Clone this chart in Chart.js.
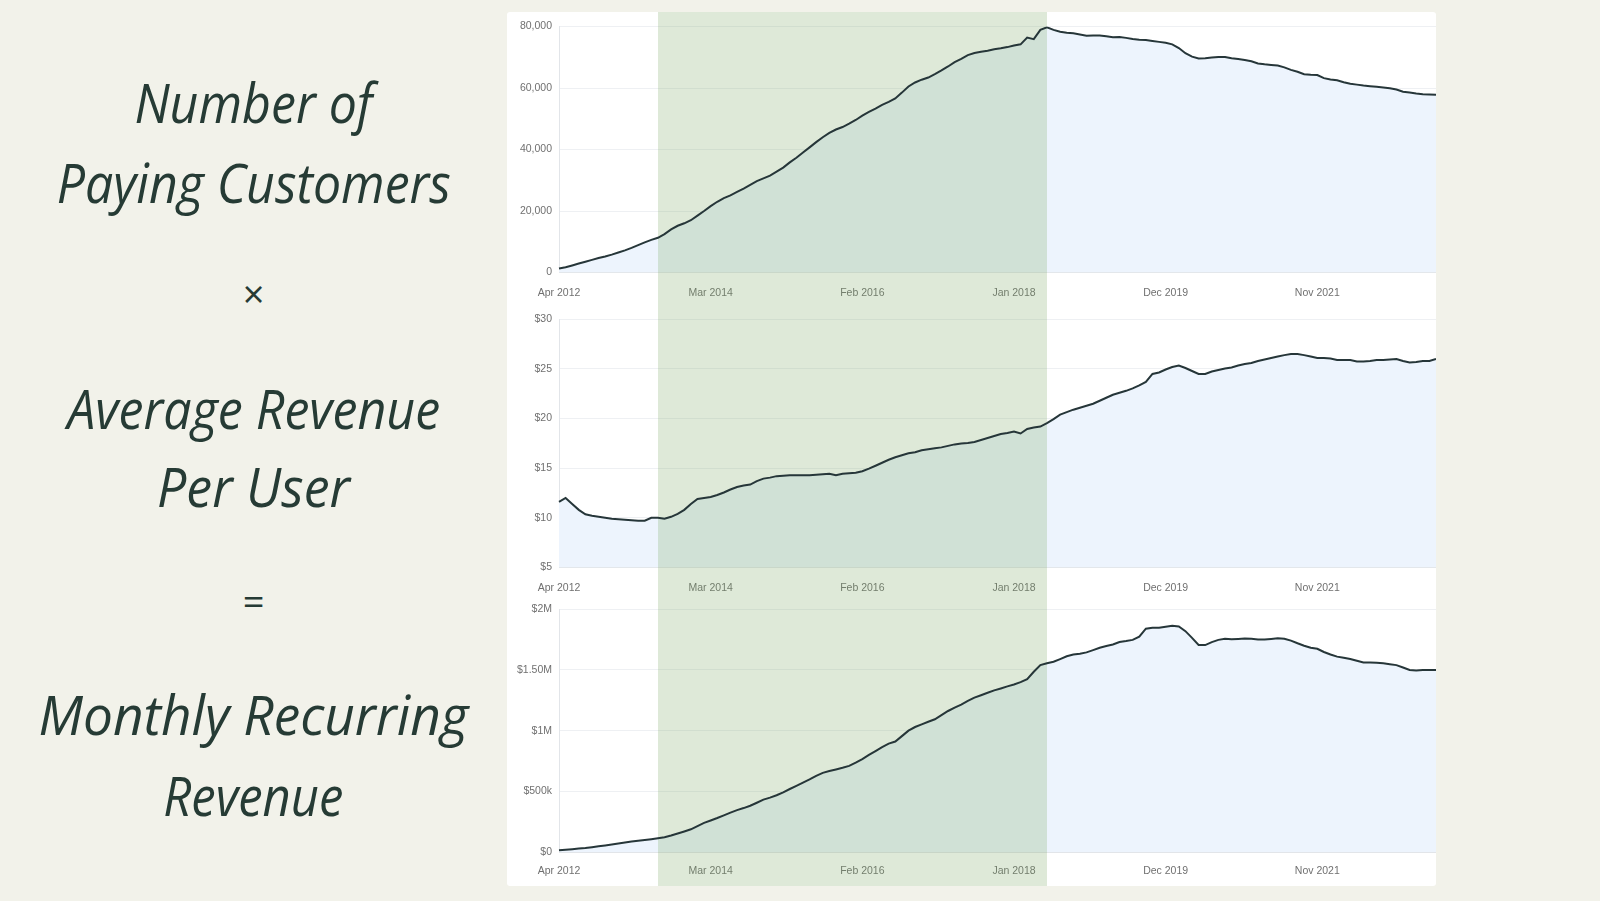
<!DOCTYPE html>
<html>
<head>
<meta charset="utf-8">
<script src="https://cdn.jsdelivr.net/npm/chart.js@4.4.1/dist/chart.umd.min.js"></script>
<style>
  html, body { margin:0; padding:0; }
  body { width:1600px; height:901px; background:#f2f2ea; position:relative; overflow:hidden; }
  .panel { position:absolute; left:507px; top:12px; width:929px; height:874px; background:#ffffff; border-radius:3px; }
  .cw { position:absolute; left:507px; width:929px; }
  .txt { position:absolute; left:0; width:507px; text-align:center; color:#263b35;
         font-family:"Open Sans", sans-serif; font-style:italic; font-weight:400; line-height:1; white-space:nowrap; }
  .txt span { display:inline-block; transform-origin:center center; }
</style>
</head>
<body>
<div class="panel"></div>
<div class="cw" style="top:12px;height:288px;"><canvas id="c1"></canvas></div>
<div class="cw" style="top:300px;height:296px;"><canvas id="c2"></canvas></div>
<div class="cw" style="top:596px;height:290px;"><canvas id="c3"></canvas></div>

<div class="txt" data-base="123" data-w="238"><span>Number of</span></div>
<div class="txt" data-base="203" data-w="394"><span>Paying Customers</span></div>
<div class="txt sym" data-center="298" data-w="22"><span>×</span></div>
<div class="txt" data-base="429" data-w="373"><span>Average Revenue</span></div>
<div class="txt" data-base="507" data-w="193"><span>Per User</span></div>
<div class="txt sym" data-center="605" data-w="22"><span>=</span></div>
<div class="txt" data-base="735" data-w="430"><span>Monthly Recurring</span></div>
<div class="txt" data-base="816" data-w="180"><span>Revenue</span></div>

<script>
// ---------- DATA ----------
const startMonth = 'Apr 2012';
const monthNames = ['Jan','Feb','Mar','Apr','May','Jun','Jul','Aug','Sep','Oct','Nov','Dec'];
const tickLabels = ['Apr 2012','Mar 2014','Feb 2016','Jan 2018','Dec 2019','Nov 2021'];
const highlightFrom = 'Jul 2013';
const highlightTo = 'Jun 2018';

const payingCustomers = [
  1300,1700,2300,2900,3500,4100,4700,5200,5800,6500,
  7200,8000,8900,9800,10600,11300,12500,14000,15200,16000,
  17000,18500,20000,21600,23000,24200,25100,26200,27300,28500,
  29700,30600,31500,32800,34100,35800,37300,39000,40700,42400,
  44000,45400,46500,47300,48400,49600,51000,52200,53300,54500,
  55500,56600,58500,60500,61800,62700,63400,64500,65700,67000,
  68400,69500,70700,71400,71800,72100,72600,72900,73300,73800,
  74200,76400,75900,78900,79700,78900,78300,78000,77800,77400,
  77000,77100,77100,76800,76500,76600,76300,75900,75700,75600,
  75300,75000,74700,74200,73000,71300,70200,69600,69700,69900,
  70100,70100,69700,69400,69100,68700,68000,67700,67500,67300,
  66700,65900,65300,64500,64300,64200,63200,62800,62500,61900,
  61400,61100,60800,60600,60400,60200,59900,59500,58800,58500,
  58200,58000,57900,57800
];

const arpu = [
  11.6,12.0,11.4,10.8,10.35,10.2,10.1,10.0,9.9,9.85,
  9.8,9.75,9.7,9.7,10.0,10.0,9.9,10.1,10.4,10.8,
  11.4,11.9,12.0,12.1,12.3,12.55,12.85,13.1,13.25,13.35,
  13.7,13.95,14.05,14.2,14.25,14.3,14.3,14.3,14.3,14.35,
  14.4,14.45,14.3,14.45,14.5,14.55,14.7,14.95,15.25,15.55,
  15.85,16.1,16.3,16.5,16.6,16.8,16.9,17.0,17.1,17.25,
  17.4,17.5,17.55,17.65,17.85,18.05,18.25,18.45,18.55,18.7,
  18.5,18.95,19.1,19.2,19.55,19.95,20.4,20.65,20.9,21.1,
  21.3,21.5,21.8,22.1,22.4,22.6,22.8,23.05,23.35,23.7,
  24.5,24.65,24.95,25.2,25.35,25.1,24.8,24.5,24.5,24.75,
  24.9,25.05,25.15,25.35,25.5,25.6,25.8,25.95,26.1,26.25,
  26.4,26.5,26.5,26.4,26.25,26.1,26.1,26.05,25.9,25.9,
  25.9,25.75,25.75,25.8,25.9,25.9,25.95,26.0,25.8,25.65,
  25.7,25.8,25.8,26.0
];

const mrr = [
  13500,18000,23000,28000,33000,40000,47000,54000,62000,70000,
  78000,86000,93000,99000,106000,114000,122000,136000,152000,169000,
  187000,214000,240000,260000,280000,302000,324000,345000,362000,381000,
  406000,432000,448000,468000,492000,519000,545000,571000,598000,628000,
  652000,667000,680000,694000,710000,736000,766000,800000,832000,865000,
  893000,910000,955000,1000000,1030000,1052000,1073000,1094000,1128000,1162000,
  1190000,1215000,1245000,1272000,1292000,1312000,1332000,1348000,1365000,1380000,
  1400000,1425000,1485000,1540000,1555000,1568000,1590000,1613000,1628000,1634000,
  1645000,1664000,1683000,1698000,1710000,1730000,1738000,1748000,1775000,1840000,
  1847000,1848000,1856000,1864000,1858000,1820000,1765000,1706000,1705000,1730000,
  1748000,1758000,1753000,1756000,1760000,1757000,1752000,1752000,1756000,1761000,
  1758000,1742000,1720000,1700000,1683000,1675000,1648000,1628000,1610000,1600000,
  1591000,1576000,1562000,1561000,1560000,1555000,1548000,1540000,1520000,1500000,
  1496000,1499000,1499000,1499000
];

const customerTicks = [0, 20000, 40000, 60000, 80000];
const arpuTicks = [5, 10, 15, 20, 25, 30];
const mrrTicks = [0, 500000, 1000000, 1500000, 2000000];
const mrrTickLabels = ['$0', '$500k', '$1M', '$1.50M', '$2M'];

// month labels from the start month
const months = (function () {
  const [mn, yr] = startMonth.split(' ');
  let m = monthNames.indexOf(mn), y = +yr;
  const out = [];
  for (let i = 0; i < payingCustomers.length; i++) {
    out.push(monthNames[m] + ' ' + y);
    m++; if (m > 11) { m = 0; y++; }
  }
  return out;
})();

// ---------- CHARTS ----------
const tickFont = { family: '"Liberation Sans", Arial, sans-serif', size: 10.5 };
const tickColor = '#707070';

const bandPlugin = {
  id: 'band',
  beforeDatasetsDraw(chart) {
    const xs = chart.scales.x;
    const x0 = Math.round(xs.getPixelForValue(months.indexOf(highlightFrom)));
    const x1 = Math.round(xs.getPixelForValue(months.indexOf(highlightTo)));
    const ctx = chart.ctx;
    ctx.save();
    ctx.fillStyle = 'rgba(125,168,100,0.25)';
    ctx.fillRect(x0, 0, x1 - x0, chart.height);
    ctx.restore();
  }
};

function makeChart(id, values, yMin, yMax, tickVals, tickFmt, yWidth, xHeight, padTop, xPad) {
  return new Chart(document.getElementById(id), {
    type: 'line',
    data: {
      labels: months,
      datasets: [{
        data: values,
        borderColor: '#263639',
        borderWidth: 2,
        pointRadius: 0,
        tension: 0,
        fill: 'origin',
        backgroundColor: '#edf4fd'
      }]
    },
    options: {
      responsive: true,
      maintainAspectRatio: false,
      animation: false,
      layout: { padding: { top: padTop, right: 0, left: 0, bottom: 0 } },
      plugins: {
        legend: { display: false },
        tooltip: { enabled: false },
        filler: { drawTime: 'beforeDatasetsDraw' }
      },
      scales: {
        x: {
          offset: false,
          grid: { display: false, drawTicks: false },
          border: { display: true, color: '#e2e5e9', width: 1 },
          ticks: { autoSkip: false, maxRotation: 0, padding: xPad, font: tickFont, color: tickColor },
          afterBuildTicks(axis) {
            axis.ticks = axis.ticks.filter(t => tickLabels.includes(months[t.value]));
          },
          afterFit(axis) { axis.height = xHeight; }
        },
        y: {
          min: yMin, max: yMax,
          grid: { color: '#eef0f3', drawTicks: false },
          border: { display: true, color: '#e2e5e9', width: 1 },
          ticks: {
            padding: 7, font: tickFont, color: tickColor,
            callback: (v) => tickFmt(v)
          },
          afterBuildTicks(axis) { axis.ticks = tickVals.map(v => ({ value: v })); },
          afterFit(axis) { axis.width = yWidth; }
        }
      }
    },
    plugins: [bandPlugin]
  });
}

makeChart('c1', payingCustomers, 0, 80000, customerTicks,
  v => v.toLocaleString('en-US'), 52, 27.5, 14.5, 14);
makeChart('c2', arpu, 5, 30, arpuTicks,
  v => '$' + v, 52, 28.6, 19.4, 14);
makeChart('c3', mrr, 0, 2000000, mrrTicks,
  v => mrrTickLabels[mrrTicks.indexOf(v)], 52, 34, 11, 13);

// ---------- LEFT TEXT ----------
(function () {
  const size = 54;
  document.querySelectorAll('.txt').forEach(d => {
    const sym = d.classList.contains('sym');
    const fs = sym ? 38 : size;
    d.style.fontSize = fs + 'px';
    if (sym) {
      d.style.fontStyle = 'normal';
      d.style.top = (+d.dataset.center - fs * 0.62) + 'px';
    } else {
      d.style.top = (+d.dataset.base - fs * 0.888) + 'px';
    }
    const sp = d.querySelector('span');
    const w = sp.getBoundingClientRect().width;
    const target = +d.dataset.w;
    if (!sym && w > 0) {
      let s = target / w;
      s = Math.max(0.75, Math.min(1.25, s));
      sp.style.transform = 'scaleX(' + s.toFixed(3) + ')';
    }
  });
})();
</script>
</body>
</html>
